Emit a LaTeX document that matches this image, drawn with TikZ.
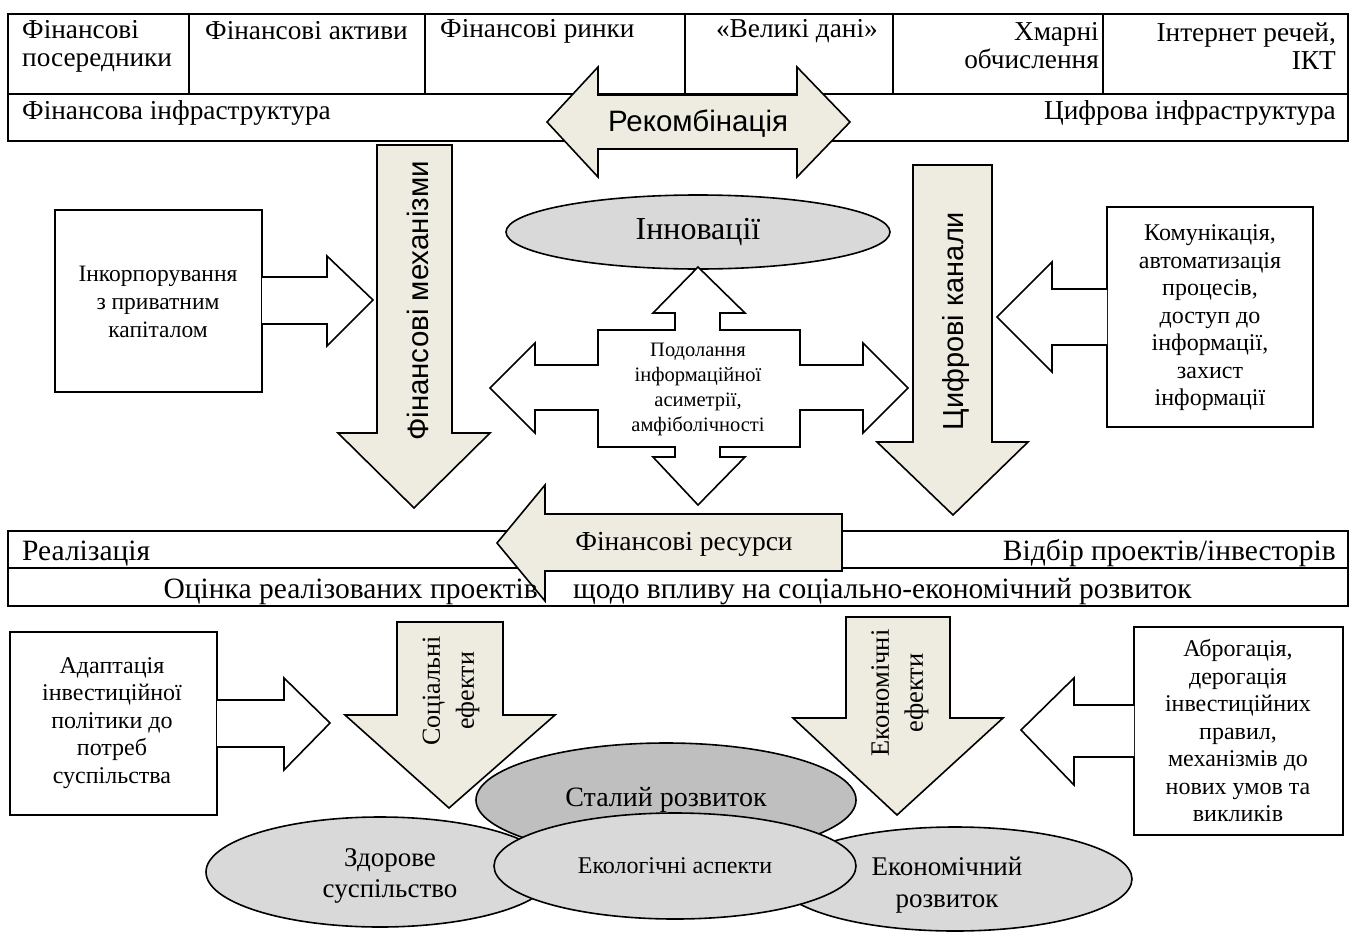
\documentclass[tikz,border=0pt]{standalone}
\usepackage{fontspec}
\setmainfont{Liberation Serif}
\newfontfamily\arialf{Liberation Sans}
\usetikzlibrary{shapes.geometric}
\definecolor{beige}{HTML}{EEECE1}
\definecolor{lgray}{HTML}{D9D9D9}
\definecolor{dgray}{HTML}{BFBFBF}
\newcommand\fsz[2]{\fontsize{#1}{#2}\selectfont}
\tikzset{
  ln/.style={draw=black, line width=1.6pt},
  barrow/.style={ln, fill=beige},
  warrow/.style={ln, fill=white},
  txt/.style={inner sep=0pt, text=black},
  tbl/.style={txt, font=\fsz{27.3}{28}},
  band/.style={txt, font=\fsz{29.5}{30}},
  boxtxt/.style={txt, align=center, font=\fsz{24}{27.5}},
  oval/.style={ln, ellipse, inner sep=0pt},
}
\begin{document}
\begin{tikzpicture}[x=1pt,y=-1pt, line join=miter]
\useasboundingbox (0,0) rectangle (1355,932);
\fill[white] (0,0) rectangle (1355,932);

% ---------- top table
\draw[ln] (8,14) rectangle (1348,141);
\draw[ln] (8,94) -- (1348,94);
\foreach \x in {189,425,685,893,1103} \draw[ln] (\x,14) -- (\x,94);
\node[tbl, anchor=west, align=left] (t1) at (22,46) {Фінансові\\посередники};
\node[tbl, anchor=west] (t2) at (205,31) {Фінансові активи};
\node[tbl, anchor=west] (t3) at (440,31) {Фінансові ринки};
\node[tbl, anchor=east] (t4) at (878,31) {«Великі дані»};
\node[tbl, anchor=east, align=right] (t5) at (1099,46) {Хмарні\\обчислення};
\node[tbl, anchor=east, align=right] (t6) at (1336,46) {Інтернет речей,\\ІКТ};
\node[tbl, anchor=west] (t7) at (22,113) {Фінансова інфраструктура};
\node[tbl, anchor=east] (t8) at (1336,113) {Цифрова інфраструктура};

% ---------- recombination double arrow
\draw[barrow] (547,122) -- (598,67) -- (598,95) -- (797,95) -- (797,67) -- (850,122)
  -- (797,177) -- (797,149) -- (598,149) -- (598,177) -- cycle;
\node[txt, font=\arialf\fsz{29.5}{32}] (rec) at (698,124) {Рекомбінація};

% ---------- financial mechanisms down arrow
\draw[barrow] (377,145) -- (452,145) -- (452,433) -- (490,433) -- (414,508) -- (338,433) -- (377,433) -- cycle;
\node[txt, rotate=90, font=\arialf\fsz{29.5}{32}] (fm) at (418,301) {Фінансові механізми};

% ---------- digital channels down arrow
\draw[barrow] (913,165) -- (992,165) -- (992,442) -- (1028,442) -- (953,515) -- (877,442) -- (913,442) -- cycle;
\node[txt, rotate=90, font=\arialf\fsz{29}{32}] (dc) at (956,321) {Цифрові канали};

% ---------- left box + arrow
\draw[ln] (55,210) rectangle (262,392);
\node[boxtxt, font=\fsz{23.5}{28}] (inc) at (158,302) {Інкорпорування\\з приватним\\капіталом};
\draw[warrow] (262,277) -- (327,277) -- (327,256) -- (373,300) -- (327,346) -- (327,324) -- (262,324);

% ---------- right box + arrow
\draw[ln] (1107,207) rectangle (1313,427);
\node[boxtxt] (com) at (1210,318) {Комунікація,\\автоматизація\\процесів,\\доступ до\\інформації,\\захист\\інформації};
\draw[warrow] (1107,289) -- (1052,289) -- (1052,262) -- (997,317) -- (1052,372) -- (1052,345) -- (1107,345);

% ---------- innovations ellipse
\node[oval, fill=lgray, minimum width=384pt, minimum height=74pt, font=\fsz{32}{34}] (inn) at (698,232) {Інновації};

% ---------- cross arrow
\draw[warrow] (698,267) -- (745,313) -- (720,313) -- (720,330) -- (800,330) -- (800,365)
  -- (863,365) -- (863,343) -- (908,388) -- (863,433) -- (863,410) -- (800,410) -- (800,447)
  -- (720,447) -- (720,457) -- (745,457) -- (698,505) -- (653,457) -- (675,457) -- (675,447)
  -- (598,447) -- (598,410) -- (535,410) -- (535,433) -- (490,388) -- (535,343) -- (535,365)
  -- (598,365) -- (598,330) -- (675,330) -- (675,313) -- (653,313) -- cycle;
\node[txt, align=center, font=\fsz{20.5}{25}] (asym) at (698,389) {Подолання\\інформаційної\\асиметрії,\\амфіболічності};

% ---------- middle band
\draw[ln] (8,531) rectangle (1348,606);
\draw[ln] (8,568) -- (1348,568);

% ---------- financial resources arrow
\draw[barrow] (842,514) -- (842,571) -- (545,571) -- (545,601) -- (497,543) -- (545,485) -- (545,514) -- cycle;
\node[txt, font=\fsz{27.5}{30}] (fr) at (684,544) {Фінансові ресурси};

\node[band, anchor=base west] (real) at (22,560) {Реалізація};
\node[band, anchor=base east] (sel) at (1336,560) {Відбір проектів/інвесторів};
\node[band, anchor=base east] (eval1) at (538,598) {Оцінка реалізованих проектів};
\node[band, anchor=base west] (eval2) at (573,598) {щодо впливу на соціально-економічний розвиток};

% ---------- bottom left box + arrow
\draw[ln] (10,632) rectangle (217,815);
\node[boxtxt] (adp) at (112,723) {Адаптація\\інвестиційної\\політики до\\потреб\\суспільства};
\draw[warrow] (217,700) -- (284,700) -- (284,678) -- (330,723) -- (284,770) -- (284,747) -- (217,747);

% ---------- social effects arrow
\draw[barrow] (397,622) -- (503,622) -- (503,715) -- (555,715) -- (449,808) -- (345,715) -- (397,715) -- cycle;
\node[txt, rotate=90, align=center, font=\fsz{26}{34}] (se) at (451,691) {Соціальні\\ефекти};

% ---------- economic effects arrow
\draw[barrow] (846,617) -- (950,617) -- (950,718) -- (1003,718) -- (897,815) -- (793,718) -- (846,718) -- cycle;
\node[txt, rotate=90, align=center, font=\fsz{26.5}{34}] (ee) at (900,693) {Економічні\\ефекти};

% ---------- bottom right box + arrow
\draw[ln] (1134,627) rectangle (1343,835);
\node[boxtxt] (abr) at (1238,731) {Аброгація,\\дерогація\\інвестиційних\\правил,\\механізмів до\\нових умов та\\викликів};
\draw[warrow] (1134,705) -- (1074,705) -- (1074,678) -- (1021,730) -- (1074,785) -- (1074,757) -- (1134,757);

% ---------- bottom ellipses
\node[oval, fill=dgray, minimum width=380pt, minimum height=114pt] (sust) at (666,800) {};
\node[oval, fill=lgray, minimum width=348pt, minimum height=110pt] (health) at (380,872) {};
\node[oval, fill=lgray, minimum width=354pt, minimum height=104pt] (econ) at (955,879) {};
\node[oval, fill=lgray, minimum width=362pt, minimum height=106pt] (eco) at (675,866) {};
\node[txt, font=\fsz{28}{30}] (sustt) at (666,800) {Сталий розвиток};
\node[txt, align=center, font=\fsz{27}{31}] (healtht) at (390,876) {Здорове\\суспільство};
\node[txt, align=center, font=\fsz{27}{32}] (econt) at (947,885) {Економічний\\розвиток};
\node[txt, font=\fsz{24}{26}] (ecot) at (675,866) {Екологічні аспекти};
\end{tikzpicture}
\end{document}
